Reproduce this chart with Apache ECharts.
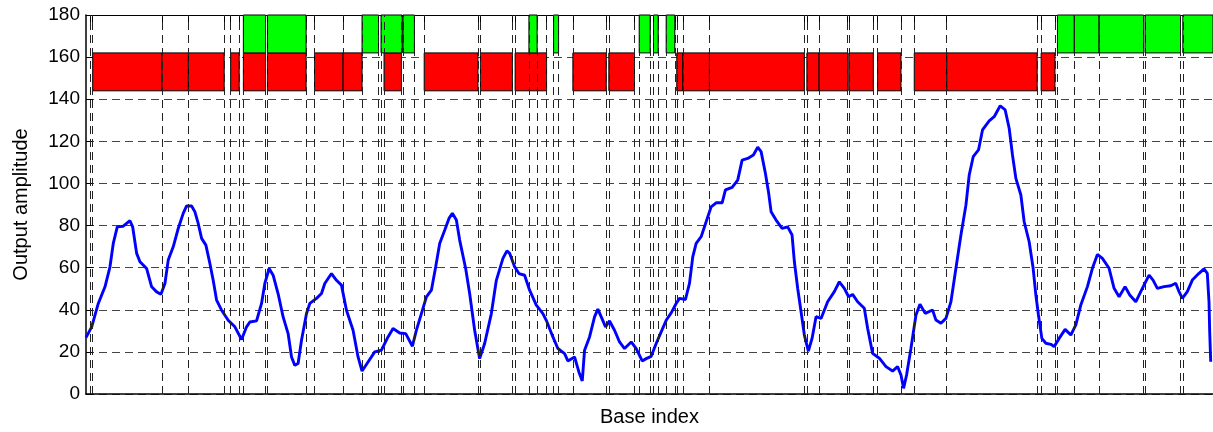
<!DOCTYPE html>
<html>
<head>
<meta charset="utf-8">
<title>Output amplitude</title>
<script src="https://cdn.jsdelivr.net/npm/echarts@6/dist/echarts.min.js"></script>
<style>
  html, body { margin: 0; padding: 0; background: #fff; }
  #chart { width: 1213px; height: 432px; }
</style>
</head>
<body>
<div id="chart"></div>
<script>
"use strict";
// curve samples (base index, amplitude)
var baseIdx = [0,5.7,12.3,19,24,27.3,31.3,37.3,44,46.7,
    50.7,54,60.7,65.7,70.7,75,79,82.3,87.3,92.3,
    97.3,100.7,105.7,109,112.3,115.7,120,124,127.3,130.7,
    135.7,142.3,149,155.7,160.7,164,170.7,175.7,179,183.3,
    187.3,192.3,197.3,202.3,205.7,209,212.3,215.7,220.7,224,
    230.7,235.7,239,245.7,250.7,255.7,260.7,267.3,272.3,276.3,
    282.3,289,295.7,302.3,307.3,314,320,326.7,330.7,335.7,
    340.7,345.7,350,354,359,363.3,366.7,370.7,374,380,
    384,389,394,399,405.7,410.7,417.3,421.3,424,429,
    433.3,439,444,450.7,457.3,460.7,467.3,472.3,479,482.3,
    489,493.3,496.7,499,504,509,512.3,515.7,520,524,
    529,534,539,545.7,550.7,556.7,560.7,565.7,570.7,575.7,
    580.7,585.7,590.7,594,600,604,607.3,610.7,615.7,620.7,
    625.7,630.7,636.7,640,646.7,652.3,656.7,662.3,668,672.3,
    675.7,680,683.3,685.7,690.7,696.7,702.3,706.7,709,712.3,
    715.7,719,723,726.7,730.7,735.7,742.3,749,754,759,
    763.3,767.3,772.3,779,782.3,787.3,794,800.7,807.3,812.3,
    815.7,818.3,821.3,825.7,830.7,834.7,840,847.3,850.7,855.7,
    860.7,865.7,870.7,875.7,880.7,884,888,893.3,897.3,904,
    909,915,920,924,927.3,930.7,935.7,939,944,948,
    950.7,953.3,956.7,960.7,965.7,969,974,980,985.7,990.7,
    995.7,1002.3,1007.3,1012.3,1017.3,1024,1029,1034,1040,1044.7,
    1050.7,1057.3,1064,1068,1072.3,1079,1085.7,1090.7,1094,1097.3,
    1102.3,1107.3,1114,1119,1122.3,1124,1124.7,1125.7];
var amp = [26.8,31.9,43,50.9,60.4,71.5,79.4,79.7,82.3,79.4,
    66.8,62.8,59.6,50.9,48.5,47.4,52.5,63.6,69.9,78.6,
    85.8,89.3,89.3,86.5,81,73.9,70.7,62,54,44.6,
    39.8,35,31.9,25.9,31.9,34.2,34.7,43,52.5,59.6,
    56.4,47.6,36.6,28.7,17.6,13.6,14.5,25.5,38.2,43,
    45.4,47.7,52.5,57.2,54,51.7,39.8,30.3,17.6,10.9,
    15.2,20,20.8,27.1,31.1,29,28.7,22.7,30.3,38.2,
    46.1,49.3,60.4,71.5,77.8,83.4,85.8,82.6,73.1,59.6,
    47.7,30.3,16.8,24,38.2,54,64.4,68,66.8,60.4,
    57.2,56.4,49.3,42.2,38.2,35,27.1,21.6,19.2,15.7,
    17.6,10.5,6.2,20.8,27.1,36.6,40.3,36.6,31.9,34.7,
    30.3,24.7,21.6,24.7,21.6,15.7,16.8,17.9,24,29.5,
    35,38.5,43,45.4,44.9,52.5,65.1,71.5,74.7,81.8,
    88.9,90.8,90.8,96.9,98.1,101.6,111.1,111.9,113.5,117.2,
    115.1,104.8,95.3,86.6,82.6,78.7,79.4,75.5,62.8,50.2,
    39.1,28,20.4,26.4,36.7,35.9,43.8,48.6,53.3,50.2,
    46.2,47.3,43.8,40.7,31.2,19.3,17,13,10.9,13,
    9,2.7,9,21.7,37.5,42.6,38.3,39.9,35.1,33.6,
    35.9,43.8,59.7,75.5,89.7,104,112.7,115.9,125.4,129.7,
    131.7,136.9,134.9,126.2,113.5,102.4,94.5,81.8,72.3,59.7,
    47,37.5,26.4,24.1,23.6,22.5,26.4,30.7,28,32.8,
    42.3,51,59.7,66.3,64.4,59.7,50.2,46.2,51,47,
    43.8,50.2,56.5,54.1,50.2,51,51.4,52.6,48.6,45.4,
    48.6,54.1,57.3,59.4,57.3,43.8,29.6,15.3];

// segment boundaries (x ticks / vertical grid)
var cuts = [4,6.7,76,102.5,138.3,144.8,153.3,157.5,179.8,181.7,
    220.3,228.7,257.3,276.3,292.8,295.3,298.3,315.7,317.3,328.7,
    338.5,392.3,394.8,426.8,429.5,443.3,451.5,461,468,473,
    487.3,520.7,523.3,549,553.7,564.7,568,572.7,580.7,589.3,
    591.3,597.3,624,719,721.5,733.7,762.3,763.5,788,792.3,
    815.7,829,861.5,952,956,969.8,972.3,989.2,1014,1058.5,
    1060,1095.5,1097.8];

// red and green segments [start, end]
var redSpans = [[6.7,76],[76,102.5],[102.5,138.3],[144.8,153.3],[157.5,179.8],
    [181.7,220.3],[228.7,257.3],[257.3,276.3],[298.3,315.7],[338.5,392.3],
    [394.8,426.8],[429.5,461],[487.3,520.7],[523.3,549],[591.3,597.3],
    [597.3,624],[624,719],[721.5,733.7],[733.7,762.3],[763.5,788],
    [792.3,815.7],[829,861.5],[861.5,952],[956,969.8]];
var greenSpans = [[157.5,179.8],[181.7,220.3],[276.3,292.8],[295.3,316.5],[317.3,328.7],
    [443.3,451.5],[468,473],[553.7,564.7],[568,572.7],[580.7,589.3],
    [972.3,989.2],[989.2,1014],[1014,1058.5],[1060,1095.5],[1097.8,1128]];
var redBand = [144, 162];
var greenBand = [162, 180];
var yTicks = [0, 20, 40, 60, 80, 100, 120, 140, 160, 180];

var FONT = "'Liberation Sans', Arial, Helvetica, sans-serif";

function spanData(spans, band) {
    return spans.map(function (s) { return [s[0], s[1], band[0], band[1]]; });
}

function rectRenderer(fill) {
    return function (params, api) {
        var p0 = api.coord([api.value(0), api.value(3)]);
        var p1 = api.coord([api.value(1), api.value(2)]);
        return {
            type: 'rect',
            shape: { x: p0[0], y: p0[1], width: p1[0] - p0[0], height: p1[1] - p0[1] },
            style: { fill: fill, stroke: '#000', lineWidth: 1 }
        };
    };
}

var curve = [];
for (var i = 0; i < Math.min(baseIdx.length, amp.length); i++) {
    curve.push([baseIdx[i], amp[i]]);
}

var myChart = echarts.init(document.getElementById('chart'), null, { renderer: 'canvas' });
var option = {
    animation: false,
    backgroundColor: '#fff',
    grid: { left: 86, right: -1, top: 15, bottom: 38, show: false },
    xAxis: [{
        type: 'value',
        min: 0,
        max: 1128,
        position: 'bottom',
        name: 'Base index',
        nameLocation: 'middle',
        nameGap: 13,
        nameTextStyle: { color: '#000', fontSize: 20, fontFamily: FONT },
        axisLine: { show: true, onZero: false, lineStyle: { color: '#000', width: 1.5 } },
        axisTick: { show: true, inside: true, length: 8, customValues: cuts, lineStyle: { color: '#000' } },
        axisLabel: { show: false },
        splitLine: { show: false }
    }, {
        type: 'value',
        min: 0,
        max: 1128,
        position: 'top',
        axisLine: { show: true, onZero: false, lineStyle: { color: '#000', width: 1 } },
        axisTick: { show: true, inside: true, length: 8, customValues: cuts, lineStyle: { color: '#000' } },
        axisLabel: { show: false },
        splitLine: { show: false }
    }],
    yAxis: {
        type: 'value',
        min: 0,
        max: 180,
        interval: 20,
        name: 'Output amplitude',
        nameLocation: 'middle',
        nameGap: 55,
        nameTextStyle: { color: '#000', fontSize: 20, fontFamily: FONT },
        axisLine: { show: true, onZero: false, lineStyle: { color: '#000', width: 1.5 } },
        axisTick: { show: true, inside: true, length: 7, lineStyle: { color: '#000' } },
        axisLabel: {
            color: '#000', fontSize: 19, fontFamily: FONT, margin: 6,
            customValues: yTicks
        },
        splitLine: { show: true, lineStyle: { color: '#444', width: 1, type: [8, 5] } }
    },
    series: [
        {
            // vertical dashed lines at each boundary
            type: 'line',
            data: [],
            z: 1,
            silent: true,
            markLine: {
                silent: true,
                symbol: ['none', 'none'],
                label: { show: false },
                lineStyle: { color: '#222', width: 1, type: [8, 5] },
                data: cuts.map(function (v) { return { xAxis: v }; })
            }
        },
        {
            type: 'custom',
            z: 2,
            renderItem: rectRenderer('#ff0000'),
            encode: { x: [0, 1], y: [2, 3] },
            data: spanData(redSpans, redBand)
        },
        {
            type: 'custom',
            z: 2,
            renderItem: rectRenderer('#00ff00'),
            encode: { x: [0, 1], y: [2, 3] },
            data: spanData(greenSpans, greenBand)
        },
        {
            type: 'line',
            z: 3,
            showSymbol: false,
            symbol: 'none',
            lineStyle: { color: '#0000ff', width: 2.9 },
            data: curve
        }
    ]
};
myChart.setOption(option);

window.onresize = function () {
    myChart.resize();
};
</script>
</body>
</html>
